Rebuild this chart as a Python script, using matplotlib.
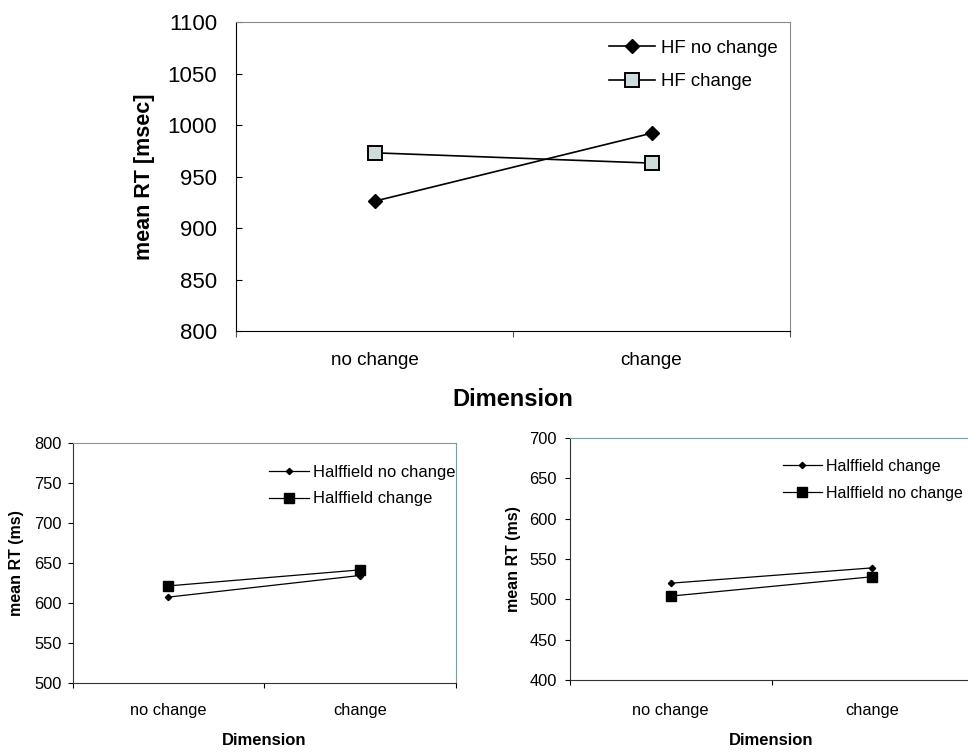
import matplotlib

matplotlib.use("Agg")
import matplotlib.pyplot as plt
import numpy as np

plt.rcParams["font.family"] = ["Liberation Sans", "DejaVu Sans"]

# values (mean RT)
categories = ["no change", "change"]

top_hf_no_change = [926, 992]
top_hf_change = [973, 963]

left_no_change = [607, 634]
left_change = [621, 641]

right_change = [520, 539]
right_no_change = [504, 528]

W, H = 968, 752
FRAME = "#8a8a8a"
FRAME_B = "#7f9c9c"


def px_axes(fig, x0, y0, x1, y1):
    """axes from pixel box (top-left origin)"""
    return fig.add_axes([x0 / W, (H - y1) / H, (x1 - x0) / W, (y1 - y0) / H])


def category_axis(ax, fs, pad):
    xs = np.arange(len(categories)) + 0.5
    ax.set_xlim(0, len(categories))
    ax.set_xticks(np.arange(len(categories) + 1))
    ax.set_xticklabels([])
    ax.set_xticks(xs, minor=True)
    ax.set_xticklabels(categories, minor=True, fontsize=fs)
    ax.tick_params(axis="x", which="minor", length=0, pad=pad)
    return xs


fig = plt.figure(figsize=(W / 100, H / 100), dpi=100)

# ---- top panel
ax = px_axes(fig, 236, 22, 790, 331)
xs = category_axis(ax, 13.6, 15)
ax.plot(xs, top_hf_no_change, color="black", lw=1.2, marker="D", ms=7.5,
        mfc="black", mec="black", label="HF no change", zorder=3)
ax.plot(xs, top_hf_change, color="black", lw=1.2, marker="s", ms=9.5,
        mfc="#cfdcdc", mec="black", mew=1.4, label="HF change", zorder=3)
ax.set_ylim(800, 1100)
ax.set_yticks(np.arange(800, 1101, 50))
ax.tick_params(axis="y", direction="in", length=4.5, labelsize=16, pad=13.5)
ax.tick_params(axis="x", which="major", direction="out", length=4, color="#555555")
for s in ("top", "right"):
    ax.spines[s].set_color(FRAME)
ax.set_ylabel("mean RT [msec]", fontsize=15.5, fontweight="bold", va="center")
ax.yaxis.set_label_coords(-0.165, 0.5)
ax.set_xlabel("Dimension", fontsize=17, fontweight="bold", va="center")
ax.xaxis.set_label_coords(0.5, -0.223)
ax.legend(loc="upper left", bbox_to_anchor=(0.673, 0.942), frameon=False,
          fontsize=13.4, borderpad=0, borderaxespad=0, handlelength=2.5,
          handletextpad=0.3, labelspacing=0.87)

# ---- bottom panels
panels = [
    ((72.7, 442.7, 455.5, 682.7), left_no_change, left_change,
     ("Halffield no change", "Halffield change"), (800, 500), 4.3, 14.5,
     -0.148, -0.242, (0.513, 0.909), 11.9),
    ((570, 438, 973, 680), right_change, right_no_change,
     ("Halffield change", "Halffield no change"), (700, 400), 6, 16.5,
     -0.139, -0.251, (0.529, 0.913), 11.5),
]
for box, diam, squares, labels, (ytop, ybot), ypad, xpad, ylx, xly, leg, lfs in panels:
    ax = px_axes(fig, *box)
    xs = category_axis(ax, 11.8, xpad)
    ax.plot(xs, diam, color="black", lw=0.9, marker="D", ms=3.2,
            mfc="black", mec="black", label=labels[0], zorder=3)
    ax.plot(xs, squares, color="black", lw=0.9, marker="s", ms=7.8,
            mfc="black", mec="black", label=labels[1], zorder=3)
    ax.set_ylim(ybot, ytop)
    ax.set_yticks(np.arange(ybot, ytop + 1, 50))
    ax.tick_params(axis="y", direction="out", length=3.6, labelsize=11.8, pad=ypad)
    ax.tick_params(axis="x", which="major", direction="out", length=3.6)
    for s in ("top", "right"):
        ax.spines[s].set_color(FRAME_B)
    ax.spines["left"].set_color("#333333")
    ax.spines["bottom"].set_color("#333333")
    ax.set_ylabel("mean RT (ms)", fontsize=11.5, fontweight="bold", va="center")
    ax.yaxis.set_label_coords(ylx, 0.5)
    ax.set_xlabel("Dimension", fontsize=12, fontweight="bold", va="center")
    ax.xaxis.set_label_coords(0.5, xly)
    ax.legend(loc="upper left", bbox_to_anchor=leg, frameon=False,
              fontsize=lfs, borderpad=0, borderaxespad=0, handlelength=2.4,
              handletextpad=0.25, labelspacing=0.72)

fig.savefig("out.png", dpi=100)
